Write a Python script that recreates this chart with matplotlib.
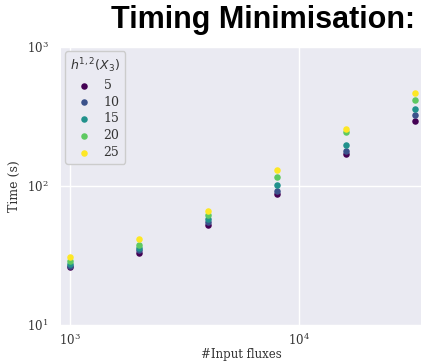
import matplotlib
matplotlib.use("Agg")
import matplotlib.pyplot as plt
import numpy as np

# Number of input fluxes per run
n_fluxes = [1000, 2000, 4000, 8000, 16000, 32000]

# h^{1,2}(X_3) values
h12 = [5, 10, 15, 20, 25]

# Wall-clock time (s) per h12 value
time_h5 = [26.0, 33.2, 52.6, 87.7, 169, 292]
time_h10 = [26.4, 34.4, 55.3, 92, 178, 323]
time_h15 = [27.3, 36.1, 58.1, 102, 196, 359]
time_h20 = [28.7, 37.9, 62.1, 116, 243, 413]
time_h25 = [30.6, 41.8, 66.3, 130, 259, 469]

series = [time_h5, time_h10, time_h15, time_h20, time_h25]
colors = ["#440154", "#3b528b", "#21918c", "#5ec962", "#fde725"]

plt.rcParams["font.family"] = ["DejaVu Serif"]
plt.rcParams["mathtext.fontset"] = "dejavusans"

fig = plt.figure(figsize=(4.23, 3.64), dpi=100)
ax = fig.add_axes([61 / 423, 39 / 364, 360 / 423, 278 / 364])
ax.set_facecolor("#EAEAF2")
for sp in ax.spines.values():
    sp.set_visible(False)

for h, vals, c in zip(h12, series, colors):
    ax.scatter(n_fluxes, vals, s=22, color=c, linewidths=0, label=str(h), zorder=3)

ax.set_xscale("log")
ax.set_yscale("log")
ax.set_xlim(913, 34100)
ax.set_ylim(10, 1000)
ax.grid(True, which="major", color="white", linewidth=1.0, zorder=0)
ax.set_axisbelow(True)
ax.tick_params(which="both", length=0, labelsize=8.5, colors="#333333")
ax.tick_params(axis="x", pad=5)
ax.tick_params(axis="y", pad=9)
ax.minorticks_off()

ax.set_xlabel("#Input fluxes", fontsize=8.5, color="#333333", labelpad=0)
ax.set_ylabel("Time (s)", fontsize=9, color="#333333", labelpad=4)

leg = ax.legend(title=r"$h^{1,2}(X_3)$", loc="upper left", fontsize=9,
                title_fontsize=9, frameon=True, facecolor="#EAEAF2",
                edgecolor="#CCCCCC", framealpha=1.0, handletextpad=0.6,
                borderpad=0.4, labelspacing=0.3, markerscale=1.0,
                bbox_to_anchor=(0.0, 1.0), borderaxespad=0.35)
for t in leg.get_texts():
    t.set_color("#333333")
leg.get_title().set_color("#333333")

fig.text(415 / 423, 1 - 20 / 364, "Timing Minimisation:", ha="right", va="center",
         fontsize=22, fontweight="bold", family=["Liberation Sans", "DejaVu Sans"],
         color="black")

fig.savefig("out.png", dpi=100)
